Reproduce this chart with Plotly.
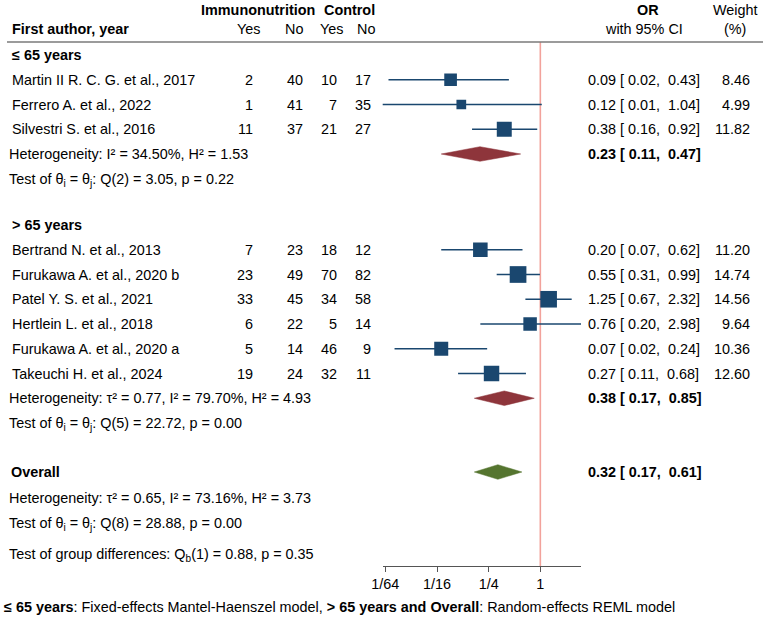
import math
import plotly.graph_objects as go

W, H = 767, 618
FONT = "Liberation Sans, Arial, Helvetica, sans-serif"
FS = 14.4

# ---------------- data ----------------
studies = ["Martin II R. C. G. et al., 2017", "Ferrero A. et al., 2022", "Silvestri S. et al., 2016",
           "Bertrand N. et al., 2013", "Furukawa A. et al., 2020 b", "Patel Y. S. et al., 2021",
           "Hertlein L. et al., 2018", "Furukawa A. et al., 2020 a", "Takeuchi H. et al., 2024"]
group = [0, 0, 0, 1, 1, 1, 1, 1, 1]
imm_yes = [2, 1, 11, 7, 23, 33, 6, 5, 19]
imm_no = [40, 41, 37, 23, 49, 45, 22, 14, 24]
ctl_yes = [10, 7, 21, 18, 70, 34, 5, 46, 32]
ctl_no = [17, 35, 27, 12, 82, 58, 14, 9, 11]
odds = [0.09, 0.12, 0.38, 0.20, 0.55, 1.25, 0.76, 0.07, 0.27]
ci_lo = [0.017, 0.01, 0.16, 0.07, 0.31, 0.67, 0.20, 0.02, 0.11]
ci_hi = [0.43, 1.04, 0.92, 0.62, 0.99, 2.32, 2.98, 0.24, 0.68]
weight = [8.46, 4.99, 11.82, 11.20, 14.74, 14.56, 9.64, 10.36, 12.60]

sum_labels = ["≤ 65 years", "&gt; 65 years", "Overall"]
sum_text = ["0.23 [ 0.11,\u00a0 0.47]", "0.38 [ 0.17,\u00a0 0.85]", "0.32 [ 0.17,\u00a0 0.61]"]
# diamonds as drawn in the picture
dia_mid = [0.198, 0.38, 0.32]
dia_lo = [0.070, 0.17, 0.17]
dia_hi = [0.59, 0.85, 0.61]

het_text = ["Heterogeneity: I² = 34.50%, H² = 1.53",
            "Heterogeneity: τ² = 0.77, I² = 79.70%, H² = 4.93",
            "Heterogeneity: τ² = 0.65, I² = 73.16%, H² = 3.73"]
test_text = ["Test of θ<sub>i</sub> = θ<sub>j</sub>: Q(2) = 3.05, p = 0.22",
             "Test of θ<sub>i</sub> = θ<sub>j</sub>: Q(5) = 22.72, p = 0.00",
             "Test of θ<sub>i</sub> = θ<sub>j</sub>: Q(8) = 28.88, p = 0.00"]
group_diff_text = "Test of group differences: Q<sub>b</sub>(1) = 0.88, p = 0.35"
footnote = ("<b>≤ 65 years</b>: Fixed-effects Mantel-Haenszel model, "
            "<b>&gt; 65 years and Overall</b>: Random-effects REML model")

tick_vals = [1 / 64, 1 / 16, 1 / 4, 1]
tick_text = ["1/64", "1/16", "1/4", "1"]

# ---------------- layout of rows (pixel-like y units) ----------------
STEP = 24.75
section_start = [55, 225, 472]
NAVY = "#1a476f"
MAROON = "#8e353b"
GREEN = "#55752f"

fig = go.Figure()
ann = []


def txt(x, y, s, anchor="left", bold=False, size=FS):
    ann.append(dict(x=x / W, xref="paper", y=y, yref="y", text=(f"<b>{s}</b>" if bold else s),
                    showarrow=False, xanchor=anchor, yanchor="middle", borderpad=0,
                    font=dict(family=FONT, size=size, color="black")))


# headers
txt(316, 10, "Immunonutrition", anchor="right", bold=True)
txt(376, 10, "Control", anchor="right", bold=True)
txt(11, 29, "First author, year", bold=True)
for xx, s in zip([261, 304, 344, 376], ["Yes", "No", "Yes", "No"]):
    txt(xx, 29, s, anchor="right")
txt(648, 10, "OR", anchor="center", bold=True)
txt(644, 29, "with 95% CI", anchor="center")
txt(735, 10, "Weight", anchor="center")
txt(735, 29, "(%)", anchor="center")

# study rows
counters = [0, 0]
study_y = []
for i in range(len(studies)):
    g = group[i]
    counters[g] += 1
    y = section_start[g] + STEP * counters[g]
    study_y.append(y)
    txt(11, y, studies[i])
    for xx, v in zip([254, 304, 338, 372], [imm_yes[i], imm_no[i], ctl_yes[i], ctl_no[i]]):
        txt(xx, y, str(v), anchor="right")
    txt(587, y, f"{odds[i]:.2f} [ {ci_lo[i]:.2f},\u00a0 {ci_hi[i]:.2f}]")
    txt(751, y, f"{weight[i]:.2f}", anchor="right")
    # CI line
    fig.add_trace(go.Scatter(x=[ci_lo[i], ci_hi[i]], y=[y, y], mode="lines",
                             line=dict(color=NAVY, width=1.3), hoverinfo="skip", showlegend=False))

# squares
fig.add_trace(go.Scatter(x=odds, y=study_y, mode="markers",
                         marker=dict(symbol="square", color=NAVY, opacity=1,
                                     size=[4.35 * math.sqrt(w) for w in weight],
                                     line=dict(width=0)),
                         hoverinfo="skip", showlegend=False))

# summaries
for g in range(3):
    if g < 2:
        n = sum(1 for gg in group if gg == g)
        hy = section_start[g] + STEP * (n + 1)
    else:
        hy = section_start[2]
    txt(11 if g < 2 else 10, section_start[g], sum_labels[g], bold=True)
    het_y = hy if g < 2 else hy + 26
    txt(8, het_y, het_text[g])
    txt(8, het_y + STEP + 1, test_text[g])
    txt(587, hy, sum_text[g], bold=True)
    col = GREEN if g == 2 else MAROON
    hh = 7.3
    fig.add_trace(go.Scatter(x=[dia_lo[g], dia_mid[g], dia_hi[g], dia_mid[g], dia_lo[g]],
                             y=[hy, hy - hh, hy, hy + hh, hy], mode="lines", fill="toself",
                             fillcolor=col, line=dict(color=col, width=0.5),
                             hoverinfo="skip", showlegend=False))

txt(8, 555, group_diff_text)
txt(3, 607, footnote)

shapes = [
    dict(type="line", xref="paper", yref="y", x0=7 / W, x1=763 / W, y0=42, y1=42,
         line=dict(color="#7a7a7a", width=1.6)),
    dict(type="line", xref="x", yref="y", x0=1, x1=1, y0=42, y1=566, layer="below",
         line=dict(color="#f2a29b", width=1.6)),
]

fig.update_layout(
    template="none",
    width=W, height=H, margin=dict(l=0, r=0, t=0, b=0, pad=0), autosize=False,
    paper_bgcolor="white", plot_bgcolor="white",
    annotations=ann, shapes=shapes, showlegend=False,
    xaxis=dict(type="log", domain=[382.7 / W, 581 / W], range=[-1.837, 0.474],
               tickvals=tick_vals, ticktext=tick_text, showline=True, linecolor="#555",
               linewidth=1.2, ticks="outside", ticklen=5, tickcolor="#555", tickwidth=1.2,
               showgrid=False, zeroline=False, anchor="free", position=1 - 566 / H,
               automargin=False,
               tickfont=dict(family=FONT, size=FS, color="black")),
    yaxis=dict(range=[H, 0], domain=[0, 1], visible=False, showgrid=False, zeroline=False,
               automargin=False),
)

fig.write_html("out.html")
